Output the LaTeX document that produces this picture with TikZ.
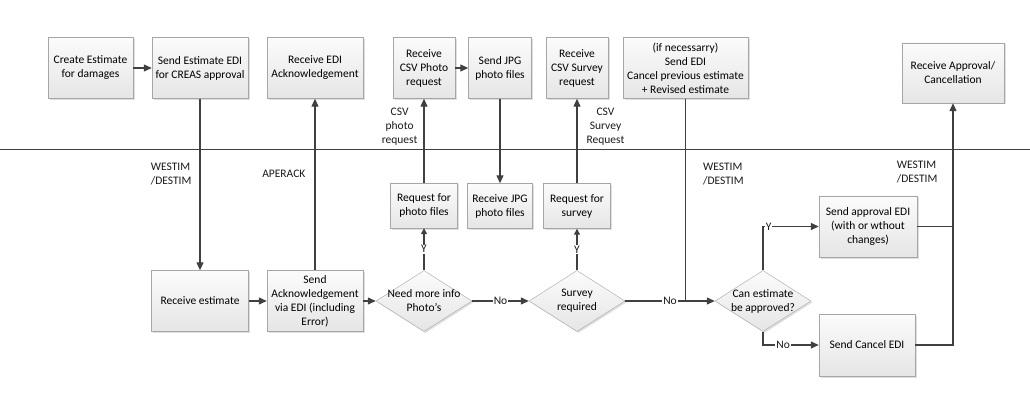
\documentclass[tikz,border=0pt]{standalone}
\usepackage{fontspec}
\setmainfont{Carlito}
\usetikzlibrary{positioning,shapes.geometric,shadows,arrows.meta}
\definecolor{darkline}{HTML}{404040}
\definecolor{boxline}{HTML}{A6A6A6}

\begin{document}
\begin{tikzpicture}[x=1pt,y=-1pt,on grid,
  font=\fontsize{11.5}{14}\selectfont,
  box/.style={rectangle, draw=boxline, top color=gray!3, bottom color=gray!20,
    align=center, inner sep=2pt, minimum height=61pt,
    drop shadow={opacity=0.25, shadow xshift=1.5pt, shadow yshift=-1.5pt}},
  smallbox/.style={box, minimum height=45pt},
  decision/.style={diamond, draw=boxline, top color=gray!3, bottom color=gray!20,
    inner sep=0pt, minimum width=96pt, minimum height=61pt,
    drop shadow={opacity=0.25, shadow xshift=1.5pt, shadow yshift=-1.5pt}},
  line/.style={color=darkline, line width=1.2pt, >={Triangle[length=8pt,width=7pt]}},
  short/.style={>={Triangle[length=6pt,width=6pt]}},
  lbl/.style={align=left, inner sep=2pt, text=black!90},
  yn/.style={fill=white, inner sep=1pt, text=black!90}]
  \useasboundingbox (0,0) rectangle (1030,406);

  % top lane
  \node[box, minimum width=96pt] (sendest) at (200,68) {Send Estimate EDI\\for CREAS approval};
  \node[box, minimum width=85pt] (create) [left=109.5pt of sendest] {Create Estimate\\for damages};
  \node[box, minimum width=96pt] (recvack) [right=115pt of sendest] {Receive EDI\\Acknowledgement};
  \node[box, minimum width=62pt] (recvcsv) [right=109pt of recvack] {Receive\\CSV Photo\\request};
  \node[box, minimum width=63pt] (sendjpg) [right=76pt of recvcsv] {Send JPG\\photo files};
  \node[box, minimum width=62pt] (recvsurv) [right=77pt of sendjpg] {Receive\\CSV Survey\\request};
  \node[box, minimum width=125pt] (revised) [right=108.5pt of recvsurv] {(if necessarry)\\Send EDI\\Cancel previous estimate\\+ Revised estimate};
  \node[box, minimum width=102pt, minimum height=60pt] (recvappr) at (953,73) {Receive Approval/\\Cancellation};

  \draw[darkline, line width=1pt] (0,150) -- (1030,150);

  % bottom lane
  \node[box, minimum width=97pt] (recvest) [below=233pt of sendest] {Receive estimate};
  \node[box, minimum width=96pt] (sendack) [right=115pt of recvest] {Send\\Acknowledgement\\via EDI (including\\Error)};
  \node[decision, label={[align=center]center:{Need more info\\Photo’s}}] (needinfo) [right=109pt of sendack] {};
  \node[smallbox, minimum width=67pt] (reqphoto) [above=95.5pt of needinfo] {Request for\\photo files};
  \node[smallbox, minimum width=65pt] (recvjpg) [below=138pt of sendjpg] {Receive JPG\\photo files};
  \node[decision, label={[align=center]center:{Survey\\required}}] (survey) [right=153pt of needinfo] {};
  \node[smallbox, minimum width=67pt] (reqsurv) [above=95pt of survey] {Request for\\survey};
  \node[decision, label={[align=center]center:{Can estimate\\be approved?}}] (canest) [right=186pt of survey] {};
  \node[box, minimum width=98pt] (sendappr) at (868,226.5) {Send approval EDI\\(with or wthout\\changes)};
  \node[box, minimum width=96pt, minimum height=62pt] (sendcancel) at (867,345) {Send Cancel EDI};

  \path[line, ->]
    (create) edge (sendest)
    (sendest) edge node[lbl, left=6pt, pos=0.44] (westimA) {WESTIM\\/DESTIM} (recvest)
    (sendack) edge node[lbl, left=7pt, pos=0.56] (aperack) {APERACK} (recvack)
    (recvcsv) edge (sendjpg)
    (reqphoto) edge node[lbl, align=center, left=4pt, pos=0.67] (csvphoto) {CSV\\photo\\request} (recvcsv)
    (sendjpg) edge (recvjpg)
    (reqsurv) edge node[lbl, align=center, right=7pt, pos=0.67] (csvsurvey) {CSV\\Survey\\Request} (recvsurv)
    (recvest) edge (sendack)
    (sendack) edge (needinfo)
    (needinfo) edge[short] node[yn] (yesA) {Y} (reqphoto)
    (needinfo) edge node[yn] (noA) {No} (survey)
    (survey) edge[short] node[yn] (yesB) {Y} (reqsurv)
    (survey) edge node[yn] (noB) {No} (canest);

  \coordinate (join) at (revised |- canest);
  \draw[line] (revised) -- node[lbl, right=15pt, pos=0.37] (westimB) {WESTIM\\/DESTIM} (join);
  \draw[line, ->] (canest.north) |- node[yn, pos=0.55] (yesC) {Y} (sendappr);
  \draw[line, ->] (canest.south) |- node[yn, pos=0.68] (noC) {No} (sendcancel);
  \draw[line] (sendappr) -- (sendappr -| recvappr);
  \draw[line, ->] (sendcancel) -| node[lbl, left=13pt, pos=0.857] (westimC) {WESTIM\\/DESTIM} (recvappr);
\end{tikzpicture}
\end{document}
